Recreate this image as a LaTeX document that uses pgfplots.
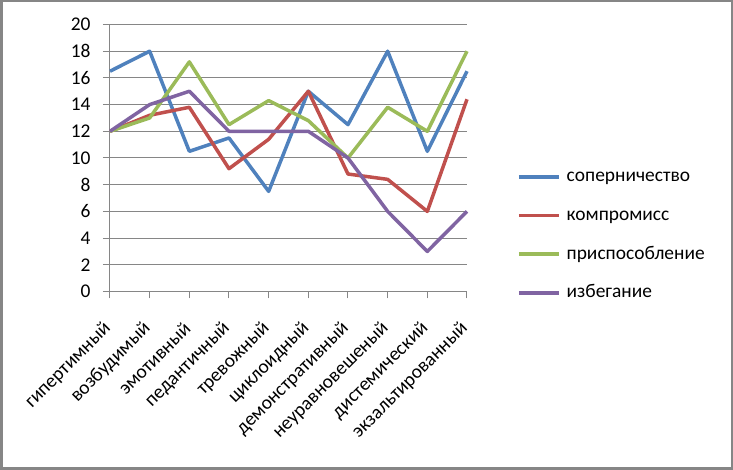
\documentclass[border=0pt]{standalone}
\usepackage{fontspec}
\setmainfont{Carlito}
\usepackage{pgfplots}
\pgfplotsset{compat=1.18}
\definecolor{sblue}{HTML}{4F81BD}
\definecolor{sred}{HTML}{C0504D}
\definecolor{sgreen}{HTML}{9BBB59}
\definecolor{spurple}{HTML}{8064A2}
\definecolor{gridg}{HTML}{868686}
\begin{document}
\begin{tikzpicture}
\useasboundingbox (0,0) rectangle (733bp,470bp);
\draw[gridg, line width=2bp] (1.5bp,1.5bp) rectangle (731.5bp,468.5bp);
\begin{axis}[
  at={(110bp,178.5bp)}, anchor=south west,
  scale only axis, width=357bp, height=267bp,
  xmin=0, xmax=9, ymin=0, ymax=20,
  xtick={0,...,9},
  xticklabels={гипертимный,возбудимый,эмотивный,педантичный,тревожный,циклоидный,демонстративный,неуравновешеный,дистемический,экзальтированный},
  ytick={0,2,...,20},
  axis lines=left,
  axis line style={-, gridg, line width=1bp},
  ymajorgrids, grid style={gridg, line width=1bp},
  tick style={gridg, line width=1bp},
  tick align=outside, major tick length=7bp,
  /pgf/number format/assume math mode=true,
  tick label style={font=\fontsize{19.5}{23}\selectfont, text=black},
  yticklabel style={xshift=-9bp},
  xticklabel style={xshift=-2bp, yshift=-27bp, rotate=45, anchor=east, inner sep=0pt},
  legend style={draw=none, fill=none, inner sep=0pt,
    at={(axis description cs:1.14,0.212)}, anchor=west,
    font=\fontsize{19.5}{23}\selectfont,
    nodes={inner sep=0pt, text height=14bp, text depth=4bp},
    row sep=20.7bp,
    /tikz/every odd column/.append style={column sep=6bp}},
  legend cell align=left,
  legend image code/.code={\draw[#1] (0bp,0bp) -- (40bp,0bp);},
  every axis plot/.append style={line width=3.5bp, line join=round},
  clip=false,
]
\addplot[sblue] coordinates {(0,16.5) (1,18) (2,10.5) (3,11.5) (4,7.5) (5,15) (6,12.5) (7,18) (8,10.5) (9,16.5)};
\addlegendentry{соперничество}
\addplot[sred] coordinates {(0,12) (1,13.2) (2,13.8) (3,9.2) (4,11.4) (5,15) (6,8.8) (7,8.4) (8,6) (9,14.4)};
\addlegendentry{компромисс}
\addplot[sgreen] coordinates {(0,12) (1,13) (2,17.2) (3,12.5) (4,14.3) (5,12.8) (6,10) (7,13.8) (8,12) (9,18)};
\addlegendentry{приспособление}
\addplot[spurple] coordinates {(0,12) (1,14) (2,15) (3,12) (4,12) (5,12) (6,10) (7,6) (8,3) (9,6)};
\addlegendentry{избегание}
\end{axis}
\end{tikzpicture}
\end{document}
